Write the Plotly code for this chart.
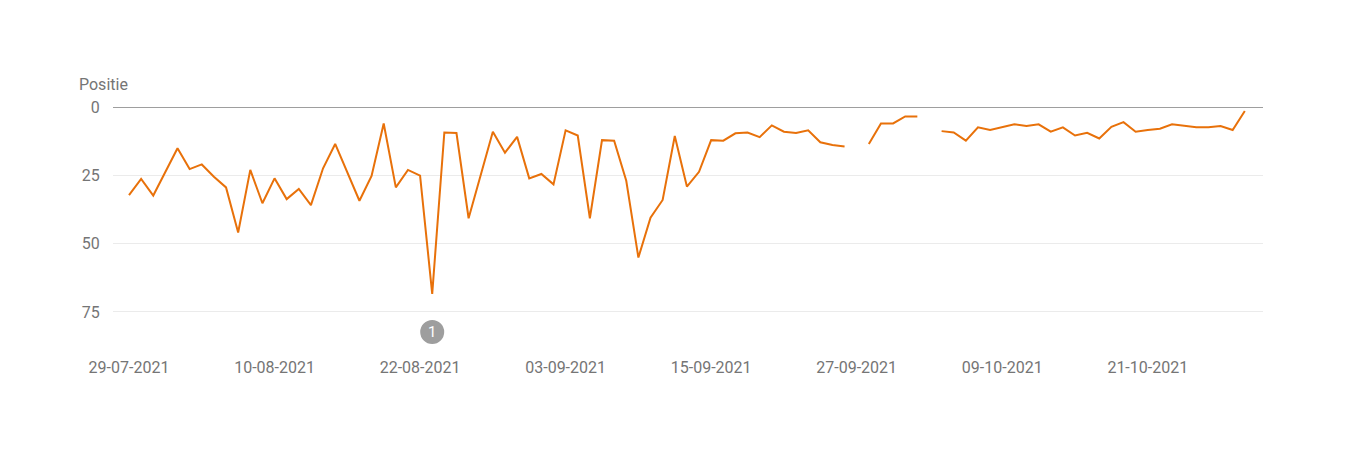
import plotly.graph_objects as go
import pandas as pd

start_date = "2021-07-29"
positions = [
    32.2, 26.3, 32.4, 23.7, 15.1, 22.7, 21.0, 25.5, 29.4, 45.9,
    23.0, 35.2, 26.1, 33.7, 30.0, 35.9, 22.4, 13.5, 23.8, 34.3,
    25.2, 6.0, 29.4, 23.0, 25.1, 68.4, 9.3, 9.5, 40.7, 24.9,
    9.0, 16.7, 10.9, 26.1, 24.5, 28.3, 8.5, 10.4, 40.7, 12.1,
    12.3, 27.0, 55.1, 40.5, 34.0, 10.6, 29.1, 23.7, 12.1, 12.3,
    9.6, 9.3, 11.0, 6.7, 9.0, 9.5, 8.5, 12.9, 13.9, 14.4,
    None, 13.5, 6.0, 6.0, 3.4, 3.4, None, 8.8, 9.3, 12.3,
    7.4, 8.4, 7.4, 6.3, 6.9, 6.3, 9.0, 7.4, 10.4, 9.4,
    11.5, 7.2, 5.5, 9.0, 8.4, 7.9, 6.3, 6.9, 7.4, 7.4,
    6.9, 8.4, 1.4,
]
dates = pd.date_range(start_date, periods=len(positions), freq="D")

annotation_dates = ["2021-08-23"]
annotation_labels = ["1"]

y_ticks = [0, 25, 50, 75]

LINE = "#e8710a"
TEXT = "#757575"
FONT = "Roboto"

fig = go.Figure()
fig.add_trace(go.Scatter(
    x=dates, y=positions, mode="lines",
    line=dict(color=LINE, width=2),
    connectgaps=False, hoverinfo="skip", showlegend=False,
))

shapes = []
annotations = [dict(
    text="Positie", xref="paper", yref="paper", x=0, y=1,
    xanchor="left", yanchor="middle", xshift=-36, yshift=22,
    showarrow=False, font=dict(size=16, color=TEXT, family=FONT),
)]
for d, lab in zip(annotation_dates, annotation_labels):
    shapes.append(dict(
        type="circle", xref="x", yref="paper",
        xsizemode="pixel", ysizemode="pixel",
        xanchor=d, yanchor=0,
        x0=-12, x1=12, y0=-31, y1=-7,
        fillcolor="#9e9e9e", line=dict(width=0), layer="above",
    ))
    annotations.append(dict(
        text=lab, xref="x", yref="paper", x=d, y=0,
        xanchor="center", yanchor="middle", yshift=-19,
        showarrow=False, font=dict(size=15, color="white", family=FONT),
    ))

fig.update_layout(
    width=1350, height=472,
    margin=dict(l=105, r=95, t=98, b=167, autoexpand=False),
    paper_bgcolor="white", plot_bgcolor="white",
    font=dict(family=FONT, color=TEXT, size=16),
    xaxis=dict(
        type="date", automargin=False,
        range=["2021-07-27 16:20", "2021-10-30 12:00"],
        tick0=start_date, dtick=12 * 86400000,
        tickformat="%d-%m-%Y",
        showgrid=False, zeroline=False, showline=False,
        ticks="outside", ticklen=40, tickcolor="rgba(0,0,0,0)",
        tickfont=dict(size=16, color=TEXT),
    ),
    yaxis=dict(
        automargin=False,
        range=[75.4, -0.4],
        tickvals=y_ticks,
        showgrid=True, gridcolor="#ebebeb", gridwidth=1,
        zeroline=True, zerolinecolor="#9e9e9e", zerolinewidth=1,
        showline=False,
        ticks="outside", ticklen=9, tickcolor="rgba(0,0,0,0)",
        tickfont=dict(size=16, color=TEXT),
    ),
    shapes=shapes,
    annotations=annotations,
)

fig.write_html("out.html")
